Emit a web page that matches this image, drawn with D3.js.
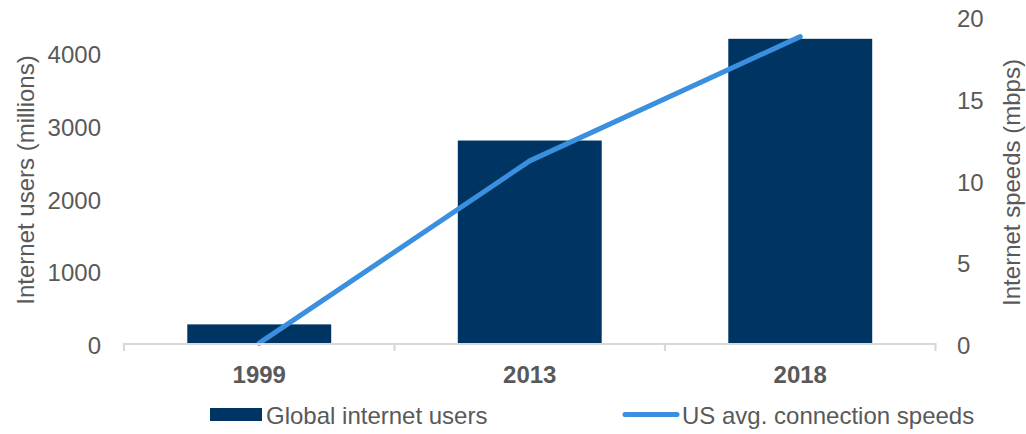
<!DOCTYPE html>
<html><head><meta charset="utf-8">
<script src="https://cdn.jsdelivr.net/npm/d3@7"></script>
<style>body{margin:0;background:#fff;} text{font-family:"Liberation Sans",Arial,sans-serif;}</style>
</head><body>
<svg id="c" width="1026" height="434"></svg>
<script>
const categories = ["1999", "2013", "2018"];
const users = [270, 2800, 4200];
const speeds = [0.05, 11.2, 18.8];
const leftTicks = [0, 1000, 2000, 3000, 4000];
const rightTicks = [0, 5, 10, 15, 20];

const svg = d3.select("#c");
const textColor = "#595959";
const fs = 24;
const x0 = 124, x1 = 935.5, yBase = 344, yTop = 17;
const x = d3.scaleBand().domain(categories).range([x0, x1]).paddingInner(0.468).paddingOuter(0.234);
const yL = d3.scaleLinear().domain([0, 4500]).range([yBase, yTop]);
const yR = d3.scaleLinear().domain([0, 20]).range([yBase, yTop]);

// bars
svg.selectAll("rect.bar").data(categories).enter().append("rect")
  .attr("x", d => x(d)).attr("width", x.bandwidth())
  .attr("y", (d,i) => yL(users[i])).attr("height", (d,i) => yBase - yL(users[i]))
  .attr("fill", "#003462");

// line
const line = d3.line().x((d,i) => x(categories[i]) + x.bandwidth()/2).y(d => yR(d));
svg.append("path").datum(speeds).attr("d", line).attr("fill", "none")
  .attr("stroke", "#3b8fdf").attr("stroke-width", 5).attr("stroke-linecap", "round")
  .attr("stroke-linejoin", "round");

// x axis
const axisG = svg.append("g");
axisG.append("line").attr("x1", x0).attr("x2", x1).attr("y1", yBase).attr("y2", yBase)
  .attr("stroke", "#d9d9d9").attr("stroke-width", 2.2);
const bounds = d3.range(categories.length + 1).map(i => x0 + i * (x1 - x0) / categories.length);
axisG.selectAll("line.t").data(bounds).enter().append("line")
  .attr("x1", d => d).attr("x2", d => d).attr("y1", yBase - 1).attr("y2", yBase + 7)
  .attr("stroke", "#d9d9d9").attr("stroke-width", 2.2);
axisG.selectAll("text.cat").data(categories).enter().append("text")
  .attr("x", d => x(d) + x.bandwidth()/2).attr("y", 383.3)
  .attr("text-anchor", "middle").attr("font-weight", "bold").attr("font-size", fs)
  .attr("fill", textColor).text(d => d);

// left ticks
svg.selectAll("text.yl").data(leftTicks).enter().append("text")
  .attr("x", 101).attr("y", d => yL(d) + 10).attr("text-anchor", "end")
  .attr("font-size", fs).attr("fill", textColor).text(d => d);
// right ticks
svg.selectAll("text.yr").data(rightTicks).enter().append("text")
  .attr("x", 957).attr("y", d => yR(d) + 10).attr("text-anchor", "start")
  .attr("font-size", fs).attr("fill", textColor).text(d => d);

// axis titles
svg.append("text").attr("transform", "translate(33.5,180) rotate(-90)")
  .attr("text-anchor", "middle").attr("font-size", fs).attr("fill", textColor)
  .text("Internet users (millions)");
svg.append("text").attr("transform", "translate(1019.5,182.5) rotate(-90)")
  .attr("text-anchor", "middle").attr("font-size", fs).attr("fill", textColor)
  .text("Internet speeds (mbps)");

// legend
svg.append("rect").attr("x", 210).attr("y", 408).attr("width", 52).attr("height", 13).attr("fill", "#003462");
svg.append("text").attr("x", 266).attr("y", 424).attr("font-size", fs).attr("fill", textColor).text("Global internet users");
svg.append("line").attr("x1", 625).attr("x2", 677).attr("y1", 414.5).attr("y2", 414.5)
  .attr("stroke", "#3b8fdf").attr("stroke-width", 5).attr("stroke-linecap", "round");
svg.append("text").attr("x", 682).attr("y", 424).attr("font-size", fs).attr("fill", textColor).text("US avg. connection speeds");
</script>
</body></html>
